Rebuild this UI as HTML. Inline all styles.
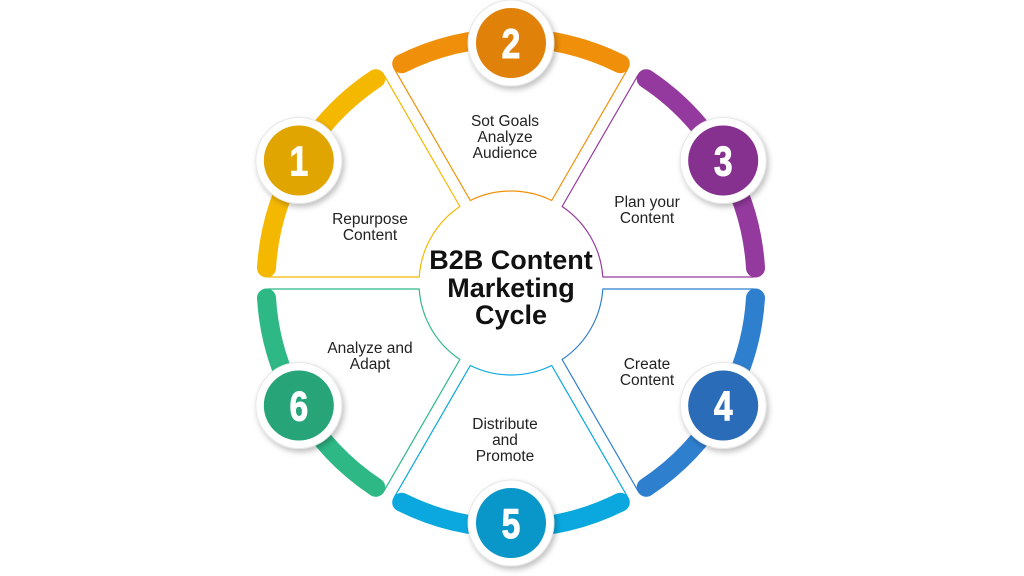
<!DOCTYPE html>
<html><head><meta charset="utf-8"><style>
html,body{margin:0;padding:0;background:#fff;}
svg{display:block;}
.t{font-family:"Liberation Sans",sans-serif;font-size:15.5px;fill:#222;text-anchor:middle;}
.h{font-family:"Liberation Sans",sans-serif;font-size:27px;font-weight:bold;fill:#111;text-anchor:middle;}
.n{font-family:"Liberation Sans",sans-serif;font-size:42px;font-weight:bold;fill:#fff;text-anchor:middle;stroke:#fff;stroke-width:1;}
</style></head><body>
<svg id="s" width="1024" height="576" viewBox="0 0 1024 576" xmlns="http://www.w3.org/2000/svg">
<defs><filter id="sh" x="-30%" y="-30%" width="160%" height="160%"><feDropShadow dx="2" dy="3" stdDeviation="3" flood-color="#000" flood-opacity="0.25"/></filter></defs>
<g id="w"></g><g id="a"></g><g id="b"></g>
<text class="h" x="511" y="269">B2B Content</text>
<text class="h" x="511" y="297">Marketing</text>
<text class="h" x="511" y="324">Cycle</text>
<text class="t" x="370" y="224">Repurpose</text><text class="t" x="370" y="240">Content</text>
<text class="t" x="505" y="126">Sot Goals</text><text class="t" x="505" y="142">Analyze</text><text class="t" x="505" y="158">Audience</text>
<text class="t" x="647" y="207">Plan your</text><text class="t" x="647" y="223">Content</text>
<text class="t" x="370" y="353">Analyze and</text><text class="t" x="370" y="369">Adapt</text>
<text class="t" x="505" y="429">Distribute</text><text class="t" x="505" y="445">and</text><text class="t" x="505" y="461">Promote</text>
<text class="t" x="647" y="369">Create</text><text class="t" x="647" y="385">Content</text>
</svg>
<script>
var C=[511,283],R=245,RI=92;
var segs=[[-150,'#F5B800','#E0A500','1'],[-90,'#F0900A','#E0820A','2'],[-30,'#943A9E','#86308F','3'],[30,'#2F7FCF','#2A6CB8','4'],[90,'#0AA8DE','#0996C8','5'],[150,'#2DB886','#27A478','6']];
var ns='http://www.w3.org/2000/svg';
function el(g,t,at){var e=document.createElementNS(ns,t);for(var k in at)e.setAttribute(k,at[k]);document.getElementById(g).appendChild(e);return e;}
function rad(d){return d*Math.PI/180;}
function pt(r,d){return [C[0]+r*Math.cos(rad(d)),C[1]+r*Math.sin(rad(d))];}
function bp(b,s,r){var o=6;var n=[Math.cos(rad(b+90*s)),Math.sin(rad(b+90*s))];var t=Math.sqrt(r*r-o*o);return [C[0]+t*Math.cos(rad(b))+o*n[0],C[1]+t*Math.sin(rad(b))+o*n[1]];}
function f(p){return p[0].toFixed(1)+' '+p[1].toFixed(1);}
segs.forEach(function(s){
 var a=s[0];
 var p1=bp(a-30,1,RI),p2=bp(a-30,1,R-2),p3=bp(a+30,-1,R-2),p4=bp(a+30,-1,RI);
 var d='M'+f(p1)+' L'+f(p2)+' A'+(R-2)+' '+(R-2)+' 0 0 1 '+f(p3)+' L'+f(p4)+' A'+RI+' '+RI+' 0 0 0 '+f(p1)+' Z';
 el('w','path',{d:d,fill:'none',stroke:s[1],'stroke-width':1.2,'stroke-linejoin':'round'});
 var q1=pt(R,a-26.5),q2=pt(R,a+26.5);
 el('a','path',{d:'M'+f(q1)+' A'+R+' '+R+' 0 0 1 '+f(q2),fill:'none',stroke:s[1],'stroke-width':19,'stroke-linecap':'round'});
 var rr=(a==-90||a==90)?240:245;
 var c=pt(rr,a);
 el('b','circle',{cx:c[0],cy:c[1],r:43,fill:'#fff',stroke:'#e6e6e6','stroke-width':1,filter:'url(#sh)'});
 el('b','circle',{cx:c[0],cy:c[1],r:35,fill:s[2]});
 var t=el('b','text',{x:0,y:0,'class':'n',transform:'translate('+c[0].toFixed(1)+' '+(c[1]+15).toFixed(1)+') scale(0.8 1)'});t.textContent=s[3];
});
</script>
</body></html>
